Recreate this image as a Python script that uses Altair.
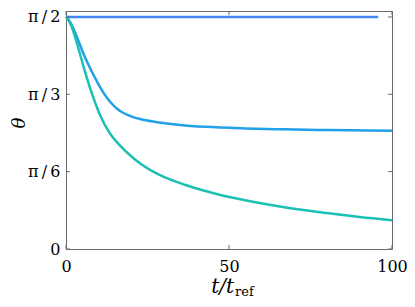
import math
import altair as alt
import pandas as pd

PI = math.pi

# ---- data ----
x_flat = [0, 95.8]
y_flat = [PI / 2, PI / 2]

x_mid = [0, 1.0, 2.0, 3.5, 5.5, 7.4, 9.5, 11.0, 12.5, 14.0, 15.5, 17.5, 20.0, 23.0, 27.6, 35.0, 42.7, 55.0, 67.0, 80.0, 100.0]
y_mid = [PI / 2, 1.545, 1.506, 1.427, 1.315, 1.224, 1.134, 1.075, 1.025, 0.985, 0.953, 0.922, 0.898, 0.878, 0.860, 0.840, 0.827, 0.816, 0.810, 0.805, 0.800]

x_low = [0, 1.5, 3.5, 5.5, 7.4, 10.4, 13.4, 16.6, 20.0, 23.0, 26.6, 30.0, 36.7, 46.8, 56.9, 67.0, 80.0, 90.0, 100.0]
y_low = [PI / 2, 1.518, 1.382, 1.224, 1.089, 0.909, 0.785, 0.700, 0.628, 0.575, 0.525, 0.488, 0.433, 0.369, 0.322, 0.283, 0.243, 0.216, 0.195]

series_names = ["flat", "mid", "low"]
series_colors = ["#4287f5", "#22a0e8", "#1cc0b4"]

x_ticks = [0, 50, 100]
y_ticks = [0, PI / 6, PI / 3, PI / 2]

# ---- build tables ----
rows = []
for name, xs, ys in zip(series_names, [x_flat, x_mid, x_low], [y_flat, y_mid, y_low]):
    for i, (xv, yv) in enumerate(zip(xs, ys)):
        rows.append({"series": name, "t": xv, "theta": yv, "i": i})
df = pd.DataFrame(rows)

ytdf = pd.DataFrame({"theta": y_ticks})
xtdf = pd.DataFrame({"t": x_ticks})
tdf = pd.DataFrame({"k": [0]})

gray = "#6b6b6b"
font = "DejaVu Serif"
W, H = 326, 238

xscale = alt.Scale(domain=[0, 100], nice=False, zero=False)
yscale = alt.Scale(domain=[0, 1.611], nice=False, zero=False)

label_expr = ("datum.value < 0.1 ? '0' : datum.value < 0.6 ? 'π\u2009/\u20096' : "
              "datum.value < 1.1 ? 'π\u2009/\u20093' : 'π\u2009/\u20092'")

xaxis = alt.Axis(values=x_ticks, title=None, ticks=False, domain=False,
                 labelFont=font, labelFontSize=16, labelColor="black",
                 labelPadding=9, labelFlush=False, grid=False)
yaxis = alt.Axis(values=y_ticks, title=None, ticks=False, domain=False,
                 labelExpr=label_expr, labelFont=font, labelFontSize=16,
                 labelColor="black", labelPadding=6, labelFlush=False, grid=False)

X = alt.X("t:Q", scale=xscale, axis=xaxis)
Y = alt.Y("theta:Q", scale=yscale, axis=yaxis)

lines = alt.Chart(df).mark_line(strokeWidth=2.5, interpolate="monotone").encode(
    x=X, y=Y,
    color=alt.Color("series:N", scale=alt.Scale(domain=series_names, range=series_colors), legend=None),
    order="i:Q",
)

ytick_left = alt.Chart(ytdf).mark_rule(color=gray, strokeWidth=1).encode(
    y=Y, x=alt.value(0), x2=alt.value(4))
ytick_right = alt.Chart(ytdf).mark_rule(color=gray, strokeWidth=1).encode(
    y=Y, x=alt.value(W - 4), x2=alt.value(W))
xtick_bot = alt.Chart(xtdf).mark_rule(color=gray, strokeWidth=1).encode(
    x=X, y=alt.value(H), y2=alt.value(H - 4))
xtick_top = alt.Chart(xtdf).mark_rule(color=gray, strokeWidth=1).encode(
    x=X, y=alt.value(0), y2=alt.value(4))

theta_title = alt.Chart(tdf).mark_text(
    text="θ", font=font, fontStyle="italic", fontSize=18, angle=270,
    align="center", baseline="middle", color="black").encode(
    x=alt.value(-46), y=alt.value(112))
t_title = alt.Chart(tdf).mark_text(
    text="t/t", font=font, fontStyle="italic", fontSize=20,
    align="right", baseline="alphabetic", color="black").encode(
    x=alt.value(W / 2 + 5), y=alt.value(282))
ref_title = alt.Chart(tdf).mark_text(
    text="ref", font=font, fontSize=13,
    align="left", baseline="alphabetic", color="black").encode(
    x=alt.value(W / 2 + 6), y=alt.value(285))

chart = alt.layer(
    lines, ytick_left, ytick_right, xtick_bot, xtick_top, theta_title, t_title, ref_title
).properties(
    width=W, height=H,
    autosize=alt.AutoSizeParams(type="none"),
    padding={"left": 58, "top": 3, "right": 15, "bottom": 50},
).configure_view(stroke=gray, strokeWidth=1)

chart.save("out.html", embed_options={"renderer": "svg", "actions": False})
